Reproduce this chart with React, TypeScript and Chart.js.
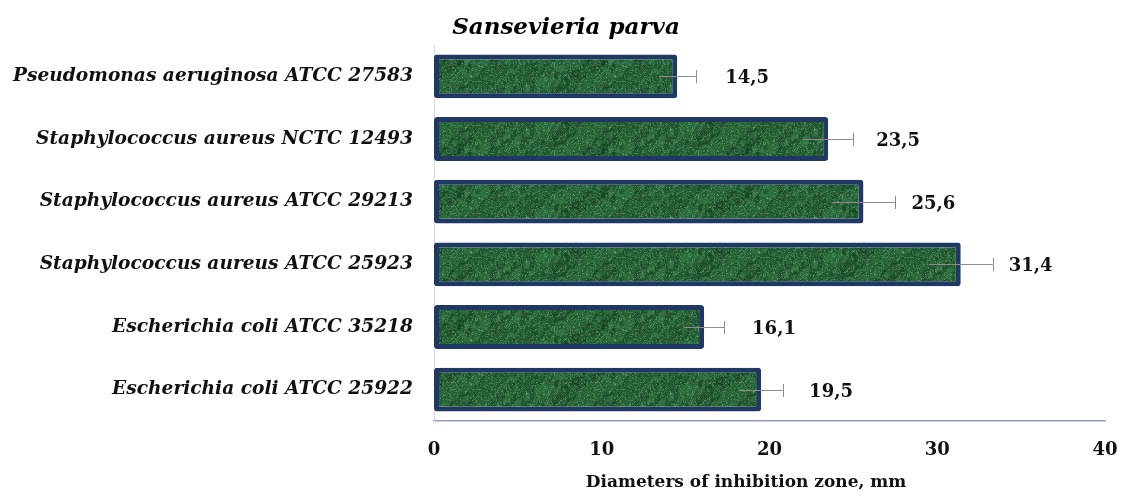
import React, { useEffect, useRef } from "react";
import { Chart, registerables } from "chart.js";

Chart.register(...registerables);

const categories = [
  "Pseudomonas aeruginosa ATCC 27583",
  "Staphylococcus aureus NCTC 12493",
  "Staphylococcus aureus ATCC 29213",
  "Staphylococcus aureus ATCC 25923",
  "Escherichia coli ATCC 35218",
  "Escherichia coli ATCC 25922",
];
const values = [14.5, 23.5, 25.6, 31.4, 16.1, 19.5];
const errors = [1.1, 1.5, 1.9, 1.9, 1.2, 1.3];
const valueLabels = ["14,5", "23,5", "25,6", "31,4", "16,1", "19,5"];
const xTicks = [0, 10, 20, 30, 40];
const xTitle = "Diameters of inhibition zone, mm";
const chartTitle = "Sansevieria parva";

const SERIF = "'DejaVu Serif', 'Liberation Serif', serif";

function makeTexture(): CanvasPattern | string {
  const W = 144;
  const H = 44;
  const c = document.createElement("canvas");
  c.width = W;
  c.height = H;
  const g = c.getContext("2d");
  if (!g) return "#2c6e3c";
  const img = g.createImageData(W, H);
  const T = Math.PI * 2;
  const dark = [16, 58, 28];
  const mid = [50, 120, 68];
  const light = [135, 200, 155];
  const terms: [number, number, number, number][] = [
    [3, 1, 0.3, 0.0],
    [7, 2, 0.22, 1.1],
    [13, -3, 0.16, 2.3],
    [19, 1, 0.12, 0.7],
    [29, 4, 0.1, 3.1],
    [41, -2, 0.08, 1.9],
  ];
  for (let y = 0; y < H; y++) {
    for (let x = 0; x < W; x++) {
      const u = x / W;
      const v = y / H;
      const wu = u + 0.06 * Math.sin(T * (v * 2 + u * 5)) + 0.03 * Math.sin(T * (u * 11 - v));
      const wv = v + 0.12 * Math.sin(T * (u * 7 + v)) + 0.05 * Math.sin(T * (u * 17));
      let t = 0;
      for (const [ku, kv, amp, ph] of terms) {
        t += amp * Math.sin(T * (ku * wu + kv * wv) + ph);
      }
      t = Math.max(0, Math.min(1, (t + 0.9) / 1.8));
      const veinSrc =
        Math.sin(T * (9 * wu + 2 * wv) + 0.4) + 0.7 * Math.sin(T * (23 * wu - 3 * wv) + 1.3);
      const vein = Math.exp(-Math.abs(veinSrc) * 4) * 0.5;
      const i = (y * W + x) * 4;
      for (let k = 0; k < 3; k++) {
        const base = dark[k] + (mid[k] - dark[k]) * t;
        img.data[i + k] = Math.round(base + (light[k] - base) * vein);
      }
      img.data[i + 3] = 255;
    }
  }
  g.putImageData(img, 0, 0);
  const p = g.createPattern(c, "repeat");
  return p || "#2c6e3c";
}

const errorBarsPlugin = {
  id: "errorBarsAndLabels",
  afterDatasetsDraw(chart: any) {
    const ctx = chart.ctx;
    const meta = chart.getDatasetMeta(0);
    const xs = chart.scales.x;
    ctx.save();
    meta.data.forEach((bar: any, i: number) => {
      const y = Math.round(bar.y);
      const x1 = xs.getPixelForValue(values[i] - errors[i]);
      const x2 = xs.getPixelForValue(values[i] + errors[i]);
      ctx.strokeStyle = "#8c8c8c";
      ctx.lineWidth = 1;
      ctx.beginPath();
      ctx.moveTo(x1, y + 0.5);
      ctx.lineTo(x2, y + 0.5);
      ctx.moveTo(Math.round(x2) + 0.5, y - 6);
      ctx.lineTo(Math.round(x2) + 0.5, y + 7);
      ctx.stroke();
      ctx.fillStyle = "#111111";
      ctx.font = `bold 18px ${SERIF}`;
      ctx.textAlign = "left";
      ctx.textBaseline = "middle";
      ctx.fillText(valueLabels[i], bar.x + 48, y + 2);
    });
    ctx.fillStyle = "#111111";
    ctx.font = `bold 17px ${SERIF}`;
    ctx.textAlign = "center";
    ctx.textBaseline = "middle";
    ctx.fillText(xTitle, 746, 483);
    ctx.fillStyle = "#000000";
    ctx.font = `italic bold 23px ${SERIF}`;
    ctx.fillText(chartTitle, 566, 28);
    ctx.restore();
  },
};

export default function App() {
  const canvasRef = useRef<HTMLCanvasElement | null>(null);

  useEffect(() => {
    document.body.style.margin = "0";
    const canvas = canvasRef.current;
    if (!canvas) return;
    const pattern = makeTexture();
    const chart = new Chart(canvas, {
      type: "bar",
      data: {
        labels: categories,
        datasets: [
          {
            data: values,
            backgroundColor: pattern as any,
            borderColor: "#203864",
            borderWidth: 5,
            borderRadius: 3,
            borderSkipped: false,
            categoryPercentage: 1,
            barPercentage: 0.7,
          },
        ],
      },
      options: {
        indexAxis: "y",
        animation: false,
        responsive: true,
        maintainAspectRatio: false,
        layout: { padding: { left: 0, right: 19, top: 45, bottom: 4 } },
        plugins: {
          legend: { display: false },
          tooltip: { enabled: false },
          title: { display: false },
        },
        scales: {
          x: {
            min: 0,
            max: 40,
            afterBuildTicks(scale: any) {
              scale.ticks = xTicks.map((v) => ({ value: v }));
            },
            afterFit(scale: any) {
              scale.height = 72;
              scale.paddingRight = 0;
              scale.paddingLeft = 0;
            },
            grid: { display: false, drawTicks: false },
            border: { display: true, color: "#8fa0b6", width: 1.5 },
            ticks: {
              color: "#111",
              padding: 19,
              maxRotation: 0,
              font: { family: SERIF, size: 18, weight: "bold" },
            },
            title: { display: false },
          },
          y: {
            grid: { display: false, drawTicks: false },
            border: { display: true, color: "#d9d9d9", width: 1 },
            afterFit(scale: any) {
              scale.width = 434;
              scale.paddingTop = 0;
              scale.paddingBottom = 0;
            },
            ticks: {
              color: "#111",
              padding: 21,
              font: { family: SERIF, size: 18.6, weight: "bold", style: "italic" },
            },
          },
        },
      },
      plugins: [errorBarsPlugin],
    });
    return () => chart.destroy();
  }, []);

  return (
    <div style={{ position: "fixed", left: 0, top: 0, width: 1124, height: 497 }}>
      <canvas ref={canvasRef} />
    </div>
  );
}
